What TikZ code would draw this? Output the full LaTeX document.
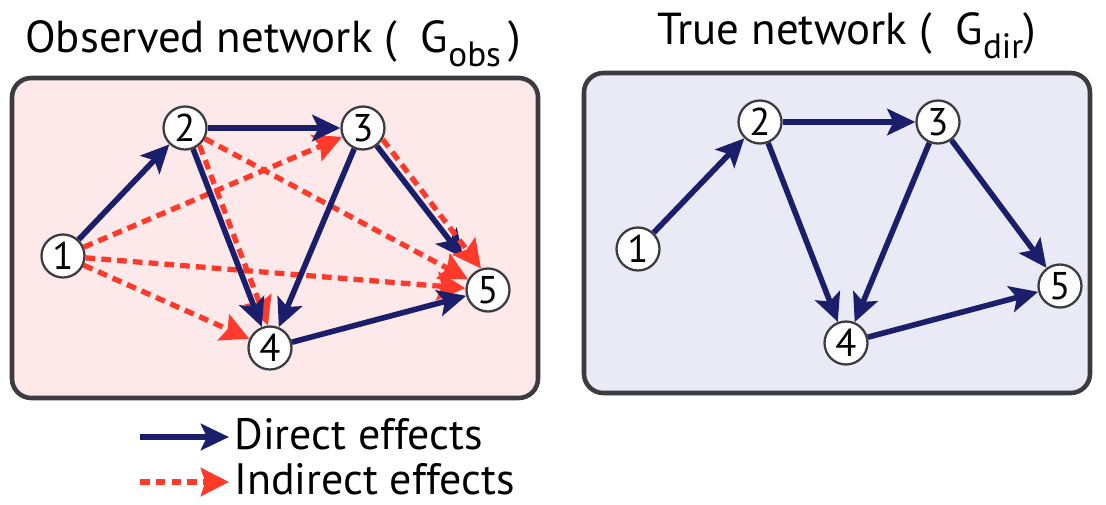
\documentclass[tikz,border=0pt]{standalone}
\usepackage{fontspec}
\setmainfont{PT Sans}
\usetikzlibrary{arrows.meta}
\definecolor{navy}{RGB}{27,31,107}
\definecolor{redd}{RGB}{255,58,42}
\definecolor{pinkbg}{RGB}{253,232,234}
\definecolor{bluebg}{RGB}{233,234,246}
\definecolor{boxline}{RGB}{60,60,64}
\tikzset{
  panel/.style={draw=boxline, line width=2.6pt, rounded corners=11pt},
  vtx/.style={circle, draw=boxline, fill=white, line width=1.3pt, minimum size=0.86cm, inner sep=0pt, font=\fontsize{22}{22}\selectfont},
  direct/.style={draw=navy, line width=3.2pt, -{Stealth[length=16pt,width=15pt,inset=3.5pt]}},
  indirect/.style={draw=redd, line width=3pt, dash pattern=on 5.5pt off 3.5pt, -{Stealth[length=16pt,width=16pt,inset=2.5pt]}},
  ttl/.style={font=\fontsize{25.5}{25.5}\selectfont, anchor=base west, inner sep=0pt},
  lgd/.style={font=\fontsize{25}{25}\selectfont, anchor=base west, inner sep=0pt}
}
\newcommand{\subtx}[1]{\raisebox{-8pt}{\fontsize{20}{20}\selectfont #1}}
\begin{document}
\begin{tikzpicture}[x=0.02cm, y=-0.02cm]
\useasboundingbox (0,0) rectangle (1106,504);
% panels
\draw[panel, fill=pinkbg] (12,78) rectangle (538,398);
\draw[panel, fill=bluebg] (584,73) rectangle (1090,393);
% titles
\node[ttl] (t1) at (25,52) {Observed network (\ \ G\subtx{obs}\,)};
\node[ttl] (t2) at (657,44) {True network (\ \ G\subtx{dir})};
% left graph
\node[vtx] (a1) at (63,256) {1};
\node[vtx] (a2) at (185,128) {2};
\node[vtx] (a3) at (363,128) {3};
\node[vtx] (a4) at (270,348) {4};
\node[vtx] (a5) at (488,290) {5};
\draw[indirect] (a1) -- (a3);
\draw[indirect] (a1) -- (a5);
\draw[indirect] (a1) -- (a4);
\draw[indirect] (a2) -- (a5);
\draw[indirect] (a2.-50) -- (a4.95);
\draw[direct] (a1) -- (a2);
\draw[direct] (a2) -- (a3);
\draw[direct] (a2) -- (a4);
\draw[direct] (a3) -- (a4);
\draw[direct, shorten >=10pt] (a3) -- (a5);
\draw[direct] (a4) -- (a5);
\draw[indirect] (a3.-30) -- (a5.108);
% right graph
\node[vtx] (b1) at (638,249) {1};
\node[vtx] (b2) at (760,122) {2};
\node[vtx] (b3) at (938,122) {3};
\node[vtx] (b4) at (846,343) {4};
\node[vtx] (b5) at (1060,286) {5};
\draw[direct] (b1) -- (b2);
\draw[direct] (b2) -- (b3);
\draw[direct] (b2) -- (b4);
\draw[direct] (b3) -- (b4);
\draw[direct] (b3) -- (b5);
\draw[direct] (b4) -- (b5);
% legend
\coordinate (l1s) at (140,437);
\coordinate (l1e) at (229,437);
\coordinate (l2s) at (140,482);
\coordinate (l2e) at (229,482);
\draw[direct] (l1s) -- (l1e);
\draw[indirect] (l2s) -- (l2e);
\node[lgd] (lt1) at (234,449) {Direct effects};
\node[lgd] (lt2) at (234,494) {Indirect effects};
\end{tikzpicture}
\end{document}
